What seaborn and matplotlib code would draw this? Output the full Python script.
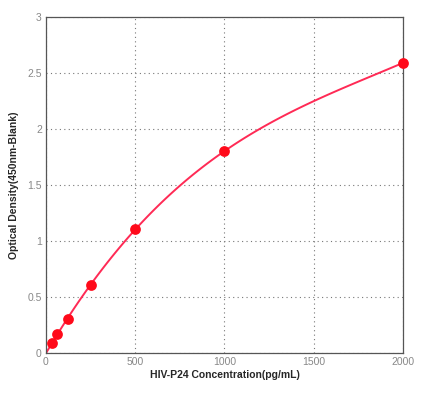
import matplotlib
matplotlib.use("Agg")
import matplotlib.pyplot as plt
import seaborn as sns
import pandas as pd

# Standard curve readings
conc = [31.25, 62.5, 125, 250, 500, 1000, 2000]
od = [0.09, 0.17, 0.30, 0.61, 1.11, 1.80, 2.59]
x_ticks = [0, 500, 1000, 1500, 2000]
y_ticks = [0, 0.5, 1, 1.5, 2, 2.5, 3]

df = pd.DataFrame({"conc": conc, "od": od})

sns.set_style("white")
plt.rcParams["font.family"] = ["Liberation Sans", "DejaVu Sans"]

fig = plt.figure(figsize=(4.38, 3.94), dpi=100)
ax = fig.add_axes([0.105, 0.104, 0.815, 0.853])
ax.set_xlim(0, 2000)
ax.set_ylim(0, 3)

# fitted standard curve
sns.regplot(x="conc", y="od", data=df, order=3, ci=None, scatter=False,
            truncate=False, color="#ff2a55", line_kws={"linewidth": 1.4}, ax=ax)
sns.scatterplot(x="conc", y="od", data=df, color="#ff0a1a", s=60,
                edgecolor="#ff0a1a", linewidth=0, zorder=5, clip_on=False, ax=ax)

ax.set_xlim(0, 2000)
ax.set_ylim(0, 3)
ax.set_xticks(x_ticks)
ax.set_yticks(y_ticks)
ax.set_xticklabels([str(t) for t in x_ticks])
ax.set_yticklabels([f"{t:g}" for t in y_ticks])
ax.grid(True, linestyle=(0, (1, 3)), color="#777777", linewidth=0.8)
ax.tick_params(labelsize=7.5, colors="#888888", length=0, pad=3)
for s in ax.spines.values():
    s.set_color("#555555")
    s.set_linewidth(0.9)

ax.set_xlabel("HIV-P24 Concentration(pg/mL)", fontsize=7.5, fontweight="bold", labelpad=2)
ax.set_ylabel("Optical Density(450nm-Blank)", fontsize=7.5, fontweight="bold", labelpad=6)

fig.savefig("out.png", dpi=100)
